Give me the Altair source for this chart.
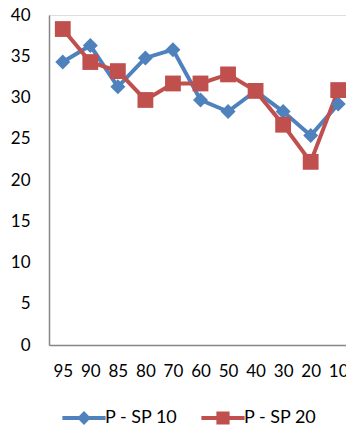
import altair as alt
import pandas as pd

categories = ["95", "90", "85", "80", "70", "60", "50", "40", "30", "20", "10"]
sp10 = [34.3, 36.3, 31.3, 34.8, 35.8, 29.7, 28.3, 30.8, 28.3, 25.4, 29.2]
sp20 = [38.3, 34.3, 33.2, 29.7, 31.7, 31.7, 32.8, 30.8, 26.7, 22.2, 30.9]
series_names = ["P - SP 10", "P - SP 20"]
colors = ["#4F81BD", "#C0504D"]

rows = []
for name, vals in zip(series_names, [sp10, sp20]):
    for c, v in zip(categories, vals):
        rows.append({"cat": c, "value": v, "series": name})
df = pd.DataFrame(rows)

FONT = "Lato"

x_enc = alt.X("cat:O", sort=categories,
              scale=alt.Scale(type="point", padding=0.5),
              axis=alt.Axis(title=None, labelAngle=0, ticks=False, tickSize=0,
                            labelPadding=18, labelFontSize=17, labelFont=FONT,
                            labelColor="#000000", domainColor="#868686",
                            domainWidth=1.5, grid=False))
y_enc = alt.Y("value:Q", scale=alt.Scale(domain=[0, 40], nice=False),
              axis=alt.Axis(title=None, values=[0, 5, 10, 15, 20, 25, 30, 35, 40],
                            ticks=False, tickSize=0, labelPadding=19,
                            labelFontSize=17, labelFont=FONT, labelColor="#000000",
                            domainColor="#868686", domainWidth=1.5, grid=False))
color_scale = alt.Scale(domain=series_names, range=colors)

lines = alt.Chart(df).mark_line(strokeWidth=4).encode(
    x=x_enc, y=y_enc,
    color=alt.Color("series:N", scale=color_scale, legend=None),
)

pts = alt.Chart(df).mark_point(filled=True, opacity=1, strokeWidth=0).encode(
    x=x_enc, y=y_enc,
    color=alt.Color("series:N", scale=color_scale, legend=None),
    shape=alt.Shape("series:N", scale=alt.Scale(domain=series_names, range=["diamond", "square"]), legend=None),
    size=alt.Size("series:N", scale=alt.Scale(domain=series_names, range=[225, 250]), legend=None),
)

# legend symbols: line with marker (units scaled by sqrt(size)/2 = 6px)
blue_sym = "M-3.6,-0.33L3.6,-0.33L3.6,0.33L-3.6,0.33Z M-1.15,0L0,-1.15L1.15,0L0,1.15Z"
red_sym = "M-3.6,-0.33L3.6,-0.33L3.6,0.33L-3.6,0.33Z M-1.1,-1.1L1.1,-1.1L1.1,1.1L-1.1,1.1Z"

leg = alt.Chart(df).transform_filter("false").mark_point(filled=True, opacity=1, strokeWidth=0).encode(
    x=x_enc, y=y_enc,
    color=alt.Color("series:N", scale=color_scale,
                    legend=alt.Legend(title=None, orient="none", direction="horizontal",
                                      legendX=26, legendY=394, labelFont=FONT,
                                      labelFontSize=18, labelColor="#000000",
                                      labelOffset=12, columnPadding=23,
                                      symbolSize=144, symbolOpacity=1,
                                      symbolStrokeWidth=0)),
    shape=alt.Shape("series:N", scale=alt.Scale(domain=series_names, range=[blue_sym, red_sym])),
)

chart = alt.layer(lines, pts, leg).resolve_scale(
    color="independent", shape="independent", size="independent"
).properties(
    width=303, height=330,
    autosize=alt.AutoSizeParams(type="none"),
    padding={"left": 41, "top": 7, "right": -6, "bottom": 81},
).configure_view(stroke=None).configure(background="white")

chart.save("out.html", embed_options={"renderer": "svg", "actions": False})
